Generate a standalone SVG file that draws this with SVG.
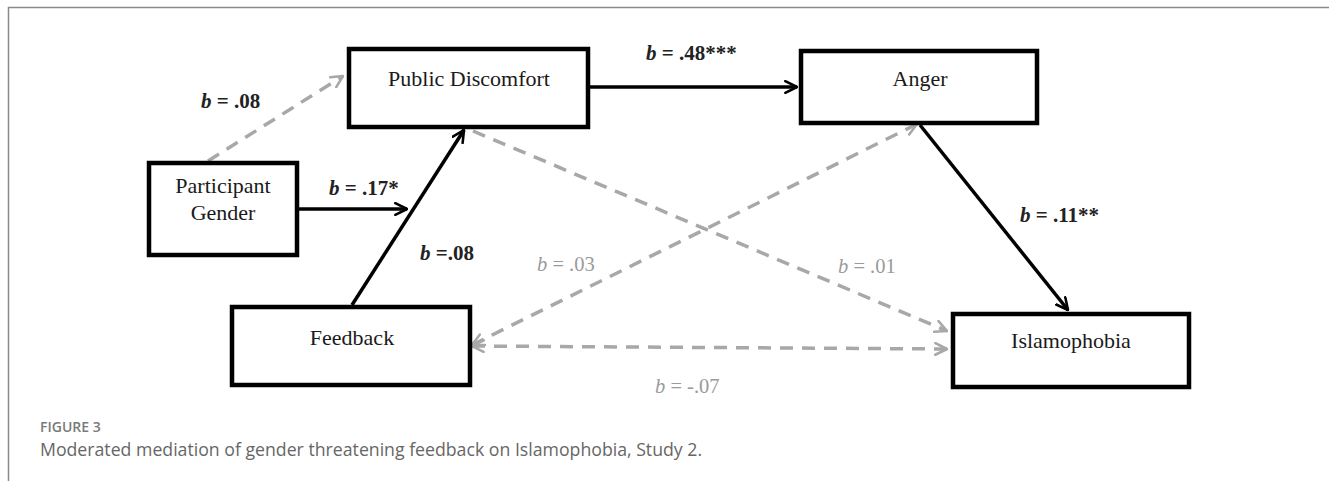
<svg xmlns="http://www.w3.org/2000/svg" width="1329" height="481" viewBox="0 0 1329 481">
<defs>
<style>
.box{fill:#fff;stroke:#000;stroke-width:4.5}
.lbl{font-family:"Liberation Serif","Times New Roman",serif;font-size:22px;fill:#1a1a1a;text-anchor:middle}
.coef{font-family:"Liberation Serif","Times New Roman",serif;font-size:21px;font-weight:bold;fill:#222}
.coefg{font-family:"Liberation Serif","Times New Roman",serif;font-size:20.5px;fill:#9a9a9a}
.solid{fill:none;stroke:#000;stroke-width:3.5}
.dash{fill:none;stroke:#a8a8a8;stroke-width:3.5;stroke-dasharray:13 9}
.cap1{font-family:"Open Sans","Liberation Sans",sans-serif;font-size:14px;font-weight:600;fill:#7a7a7a}
.cap2{font-family:"Open Sans","Liberation Sans",sans-serif;font-size:17.7px;fill:#666}
</style>
<marker id="ab" viewBox="0 0 12 12" refX="11" refY="6" markerWidth="14" markerHeight="14" markerUnits="userSpaceOnUse" orient="auto-start-reverse"><path d="M1,1 L11,6 L1,11" fill="none" stroke="#000" stroke-width="2.2" stroke-linecap="round" stroke-linejoin="round"/></marker>
<marker id="ag" viewBox="0 0 12 12" refX="11" refY="6" markerWidth="14" markerHeight="14" markerUnits="userSpaceOnUse" orient="auto-start-reverse"><path d="M1,1 L11,6 L1,11" fill="none" stroke="#a8a8a8" stroke-width="2.2" stroke-linecap="round" stroke-linejoin="round"/></marker>
</defs>
<rect width="1329" height="481" fill="#fff"/>
<path d="M8.5,481 V7.5 H1329" fill="none" stroke="#8a8a8a" stroke-width="1.5"/>
<g id="connectors">
<line class="dash" x1="208" y1="161" x2="343" y2="76" marker-end="url(#ag)"/>
<line class="solid" x1="298" y1="209" x2="407" y2="209" marker-end="url(#ab)"/>
<line class="solid" x1="352" y1="305" x2="464" y2="130" marker-end="url(#ab)"/>
<line class="solid" x1="588" y1="87" x2="797" y2="87" marker-end="url(#ab)"/>
<line class="solid" x1="920" y1="125" x2="1068" y2="310" marker-end="url(#ab)"/>
<line class="dash" x1="473" y1="131" x2="947" y2="331" marker-end="url(#ag)"/>
<line class="dash" x1="472" y1="345" x2="917" y2="124" marker-start="url(#ag)" marker-end="url(#ag)"/>
<line class="dash" x1="472" y1="346" x2="947" y2="349" marker-start="url(#ag)" marker-end="url(#ag)"/>
</g>
<g id="node-public-discomfort"><rect class="box" x="349" y="49" width="239" height="78"/><text class="lbl" x="469" y="86">Public Discomfort</text></g>
<g id="node-anger"><rect class="box" x="801" y="51" width="236" height="72"/><text class="lbl" x="920" y="86">Anger</text></g>
<g id="node-participant-gender"><rect class="box" x="149" y="163" width="148" height="92"/><text class="lbl" x="223" y="193">Participant</text><text class="lbl" x="223" y="220">Gender</text></g>
<g id="node-feedback"><rect class="box" x="232" y="307" width="238" height="78"/><text class="lbl" x="352" y="345">Feedback</text></g>
<g id="node-islamophobia"><rect class="box" x="953" y="314" width="236" height="73"/><text class="lbl" x="1071" y="348">Islamophobia</text></g>
<g id="labels">
<text class="coef" x="201" y="108"><tspan font-style="italic">b</tspan> = .08</text>
<text class="coef" x="329" y="195"><tspan font-style="italic">b</tspan> = .17*</text>
<text class="coef" x="420" y="260"><tspan font-style="italic">b</tspan> =.08</text>
<text class="coef" x="646" y="60"><tspan font-style="italic">b</tspan> = .48***</text>
<text class="coef" x="1020" y="222"><tspan font-style="italic">b</tspan> = .11**</text>
<text class="coefg" x="537" y="271"><tspan font-style="italic">b</tspan> = .03</text>
<text class="coefg" x="838" y="273"><tspan font-style="italic">b</tspan> = .01</text>
<text class="coefg" x="655" y="393"><tspan font-style="italic">b</tspan> = -.07</text>
</g>
<text class="cap1" x="40" y="432">FIGURE 3</text>
<text class="cap2" x="40" y="456">Moderated mediation of gender threatening feedback on Islamophobia, Study 2.</text>
</svg>
